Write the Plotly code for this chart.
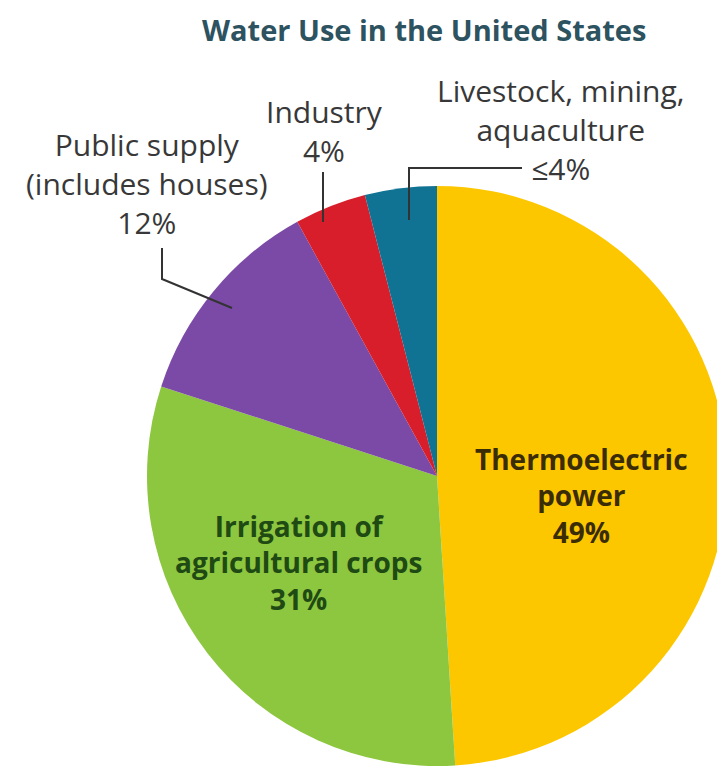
import plotly.graph_objects as go

# ---- data ----
categories = ["Thermoelectric power", "Irrigation of agricultural crops",
              "Public supply (includes houses)", "Industry",
              "Livestock, mining, aquaculture"]
values = [49, 31, 12, 4, 4]
colors = ["#FDC700", "#8DC63F", "#7B4AA6", "#D71E2A", "#117394"]
title_text = "Water Use in the United States"

W, H = 725, 777
OFF = 8  # page body margin offset

def px(x):
    return (x - OFF) / W

def py(y):
    return (H - (y - OFF)) / H

fig = go.Figure(go.Pie(
    labels=categories,
    values=values,
    sort=False,
    direction="clockwise",
    rotation=0,
    marker=dict(colors=colors, line=dict(width=0)),
    textinfo="none",
    hoverinfo="label+percent",
    domain=dict(x=[px(147), px(727)], y=[py(766), py(186)]),
    showlegend=False,
))

label_font = dict(family="Open Sans", size=30, color="#383838")

annotations = [
    dict(x=px(424), y=py(30), text="<b>" + title_text + "</b>",
         font=dict(family="Open Sans", size=29, color="#2D5260")),
    dict(x=px(147), y=py(184), text="Public supply<br>(includes houses)<br>12%",
         font=label_font),
    dict(x=px(324), y=py(131), text="Industry<br>4%", font=label_font),
    dict(x=px(561), y=py(130), text="Livestock, mining,<br>aquaculture<br>≤4%",
         font=label_font),
    dict(x=px(581), y=py(496), text="<b>Thermoelectric<br>power<br>49%</b>",
         font=dict(family="Open Sans", size=28, color="#3A2C05")),
    dict(x=px(298), y=py(562), text="<b>Irrigation of<br>agricultural crops<br>31%</b>",
         font=dict(family="Open Sans", size=28, color="#1F4A14")),
]
for a in annotations:
    a.update(xref="paper", yref="paper", xanchor="center", yanchor="middle",
             showarrow=False)

line_style = dict(color="#333333", width=2)
shapes = [
    dict(type="path", path=f"M {px(162)} {py(248)} L {px(162)} {py(279)} L {px(232)} {py(308)}",
         xref="paper", yref="paper", line=line_style),
    dict(type="line", x0=px(323), y0=py(172), x1=px(323), y1=py(222),
         xref="paper", yref="paper", line=line_style),
    dict(type="path", path=f"M {px(409)} {py(220)} L {px(409)} {py(168)} L {px(522)} {py(168)}",
         xref="paper", yref="paper", line=line_style),
]

fig.update_layout(
    width=W, height=H,
    margin=dict(l=0, r=0, t=0, b=0),
    paper_bgcolor="white",
    annotations=annotations,
    shapes=shapes,
)

fig.write_html("out.html")
